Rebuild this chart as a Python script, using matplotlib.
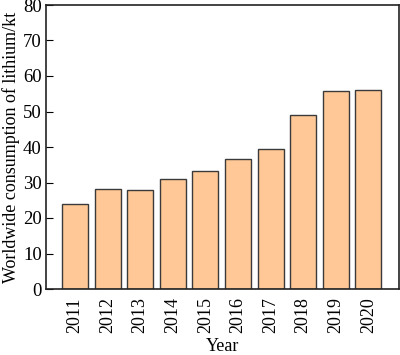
import matplotlib.pyplot as plt
import numpy as np

plt.rcParams['font.family'] = ['Liberation Serif', 'DejaVu Serif']

years = ['2011', '2012', '2013', '2014', '2015', '2016', '2017', '2018', '2019', '2020']
consumption = [24.0, 28.1, 28.0, 30.9, 33.3, 36.5, 39.5, 48.9, 55.9, 56.1]

fig = plt.figure(figsize=(4.0, 3.55), dpi=100)
ax = fig.add_axes([46/400, 66/355, 353/400, 284/355])

x = np.arange(len(years))
ax.bar(x, consumption, width=0.8, color='#FFC896', edgecolor='#3a3a3a', linewidth=1.0)

ax.set_xlim(-0.89, 9.94)
ax.set_ylim(0, 80)
ax.set_yticks(np.arange(0, 81, 10))
ax.set_xticks(x)
ax.set_xticklabels(years, rotation=90, fontsize=13)
ax.tick_params(axis='y', direction='in', length=5, labelsize=13.5, pad=3)
ax.tick_params(axis='x', length=0, pad=6)
ax.set_xlabel('Year', fontsize=13, labelpad=3.5)
ax.set_ylabel('Worldwide consumption of lithium/kt', fontsize=13, labelpad=2)
for s in ax.spines.values():
    s.set_linewidth(1.2)
    s.set_color('#222222')

fig.savefig('out.png', dpi=100)
